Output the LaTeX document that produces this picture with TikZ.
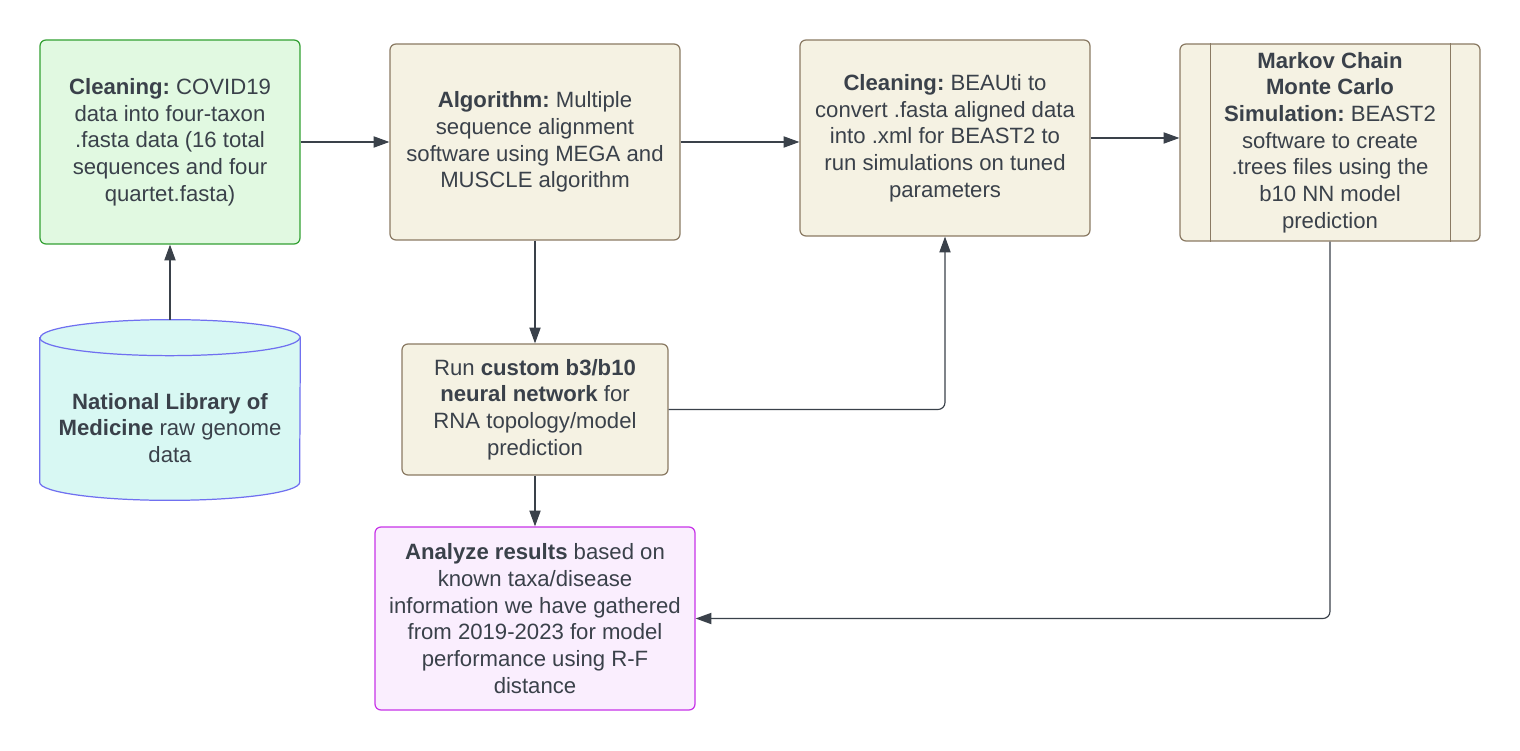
\documentclass[tikz,border=0pt]{standalone}
\usepackage{fontspec}
\setmainfont{Liberation Sans}
\usetikzlibrary{arrows.meta,backgrounds}
\frenchspacing
\definecolor{txtgray}{HTML}{3A414A}
\definecolor{greenfill}{HTML}{E1F9E1}
\definecolor{greenline}{HTML}{33A033}
\definecolor{beigefill}{HTML}{F5F2E3}
\definecolor{beigeline}{HTML}{8A7A63}
\definecolor{cyanfill}{HTML}{D8F8F3}
\definecolor{cyanline}{HTML}{7070F0}
\definecolor{purplefill}{HTML}{FAEEFE}
\definecolor{purpleline}{HTML}{C733E8}
\begin{document}
\begin{tikzpicture}[
        font=\fontsize{12.6}{15.2}\selectfont, text=txtgray,
        box/.style={draw, rounded corners=3.4pt, line width=0.7pt, align=center, inner sep=0pt},
        beigebox/.style={box, draw=beigeline, fill=beigefill},
        ->/.style={draw=txtgray, line width=0.65pt, -{Triangle[length=9pt,width=6.4pt]}},
    ]
    \useasboundingbox (0,0) rectangle (30.4,-15.02);

    \node[box, draw=greenline, fill=greenfill, minimum width=5.2cm, minimum height=4.08cm] (clean1) at (3.4,-2.84)
        {\textbf{Cleaning:} COVID19\\data into four-taxon\\.fasta data (16 total\\sequences and four\\quartet.fasta)};
    \node[beigebox, minimum width=5.8cm, minimum height=3.92cm] (algo) at (10.7,-2.84)
        {\textbf{Algorithm:} Multiple\\sequence alignment\\software using MEGA and\\MUSCLE algorithm};
    \node[beigebox, minimum width=5.8cm, minimum height=3.92cm] (beauti) at (18.9,-2.76)
        {\textbf{Cleaning:} BEAUti to\\convert .fasta aligned data\\into .xml for BEAST2 to\\run simulations on tuned\\parameters};
    \node[beigebox, minimum width=6cm, minimum height=3.94cm] (mcmc) at (26.6,-2.85)
        {\textbf{Markov Chain}\\\textbf{Monte Carlo}\\\textbf{Simulation:} BEAST2\\software to create\\.trees files using the\\b10 NN model\\prediction};
    \node[align=center, inner sep=0pt, minimum width=5.2cm, minimum height=2.88cm] (nlm) at (3.4,-8.56)
        {\textbf{National Library of}\\\textbf{Medicine} raw genome\\data};
    \node[beigebox, minimum width=5.32cm, minimum height=2.62cm] (run) at (10.7,-8.19)
        {Run \textbf{custom b3/b10}\\\textbf{neural network} for\\RNA topology/model\\prediction};
    \node[box, draw=purpleline, fill=purplefill, minimum width=6.4cm, minimum height=3.66cm] (analyze) at (10.7,-12.37)
        {\textbf{Analyze results} based on\\known taxa/disease\\information we have gathered\\from 2019-2023 for model\\performance using R-F\\distance};

    % double side bars of the simulation box
    \draw[beigeline, line width=0.7pt] ([xshift=0.62cm]mcmc.north west) -- ([xshift=0.62cm]mcmc.south west);
    \draw[beigeline, line width=0.7pt] ([xshift=-0.6cm]mcmc.north east) -- ([xshift=-0.6cm]mcmc.south east);

    % database cylinder
    \begin{scope}[on background layer]
        \filldraw[draw=cyanline, fill=cyanfill, line width=0.7pt]
            ([yshift=0.36cm]nlm.north west) -- ([yshift=0.36cm]nlm.south west)
            arc[start angle=180, end angle=360, x radius=2.6cm, y radius=0.36cm]
            -- ([yshift=0.36cm]nlm.north east)
            arc[start angle=0, end angle=180, x radius=2.6cm, y radius=0.36cm] -- cycle;
        \draw[cyanline, line width=0.7pt] ([yshift=0.36cm]nlm.north west)
            arc[start angle=180, end angle=360, x radius=2.6cm, y radius=0.36cm];
    \end{scope}
    \coordinate (nlmtop) at ([yshift=0.72cm]nlm.north);

    \draw[->] (clean1.east) -- (clean1.east -| algo.west);
    \draw[->] (algo.east) -- (algo.east -| beauti.west);
    \draw[->] (beauti.east) -- (beauti.east -| mcmc.west);
    \draw[->] (nlmtop) -- (clean1.south);
    \draw[->] (algo.south) -- (run.north);
    \draw[->, rounded corners=4pt] (run.east) -| (beauti.south);
    \draw[->] (run.south) -- (analyze.north);
    \draw[->, rounded corners=4pt] (mcmc.south) |- (analyze.east);
\end{tikzpicture}
\end{document}
